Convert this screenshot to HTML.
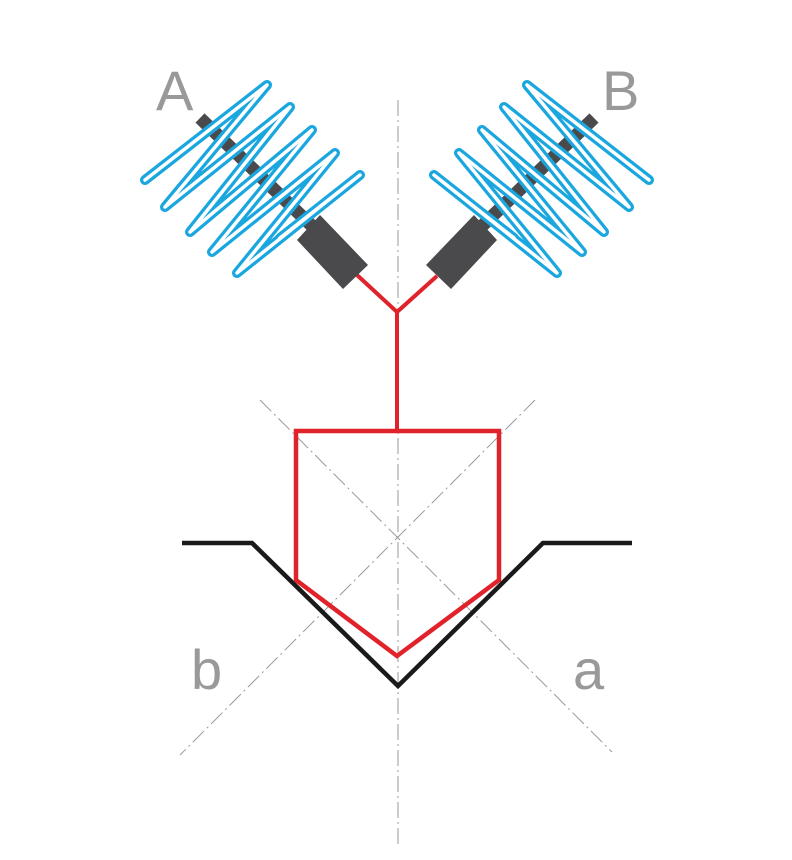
<!DOCTYPE html>
<html><head><meta charset="utf-8"><style>
html,body{margin:0;padding:0;background:#fff;}
svg{display:block;}
</style></head><body>
<svg width="792" height="860" viewBox="0 0 792 860" xmlns="http://www.w3.org/2000/svg">
<g stroke="#999" stroke-width="1" stroke-dasharray="16,4,2,4" fill="none">
<line x1="398" y1="100" x2="398" y2="845"/>
<line x1="260" y1="400" x2="612" y2="752"/>
<line x1="535" y1="400" x2="180" y2="755"/>
</g>
<polyline points="182,543 252,543 398,686 543,543 632,543" fill="none" stroke="#1a1a1a" stroke-width="4.5"/>
<polygon points="296,431 499,431 499,580 397,656 296,580" fill="none" stroke="#e0232b" stroke-width="4.5"/>
<polyline points="357,275 397,312 437,276" fill="none" stroke="#e0232b" stroke-width="4"/>
<line x1="397" y1="312" x2="397" y2="431" stroke="#e0232b" stroke-width="4"/>
<g id="sa">
<line x1="200" y1="118" x2="312" y2="226" stroke="#4a4a4c" stroke-width="13"/>
<polygon points="297,240 320,215 368,265 343,289" fill="#4a4a4c"/>
<polyline points="145,180 267,85 165,207 290,107 190,232 312,130 212,252 335,153 237,273 360,175 280,238" fill="none" stroke="#1aa6de" stroke-width="10" stroke-linejoin="round" stroke-linecap="round"/>
<polyline points="145,180 267,85 165,207 290,107 190,232 312,130 212,252 335,153 237,273 360,175 280,238" fill="none" stroke="#fff" stroke-width="3.5" stroke-linejoin="round" stroke-linecap="round"/>
</g>
<use href="#sa" transform="translate(794,0) scale(-1,1)"/>
<g font-family="Liberation Sans, sans-serif" fill="#999" font-size="56">
<text x="156" y="110">A</text>
<text x="602" y="110">B</text>
<text x="191" y="689">b</text>
<text x="573" y="689">a</text>
</g>
</svg>
</body></html>
